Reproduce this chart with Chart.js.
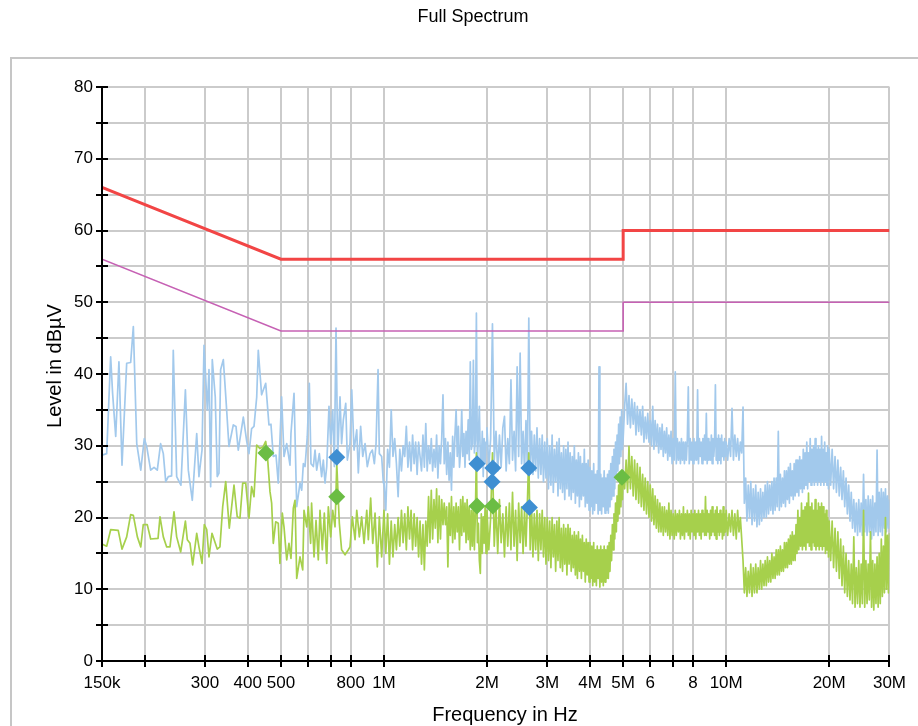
<!DOCTYPE html>
<html>
<head>
<meta charset="utf-8">
<title>Full Spectrum</title>
<script src="https://cdn.jsdelivr.net/npm/chart.js@4.4.0/dist/chart.umd.min.js"></script>
<style>
  html, body { margin: 0; padding: 0; background: #fff; }
  #wrap { width: 918px; height: 726px; }
</style>
</head>
<body>
<div id="wrap"><canvas id="chart" width="918" height="726"></canvas></div>
<script>
// x axis ticks (MHz) and their labels
const xTickValues = [0.15, 0.2, 0.3, 0.4, 0.5, 0.6, 0.7, 0.8, 1, 2, 3, 4, 5, 6, 7, 8, 10, 20, 30];
const xTickLabels = ['150k', '', '300', '400', '500', '', '', '800', '1M', '2M', '3M', '4M', '5M', '6', '', '8', '10M', '20M', '30M'];

// limit lines (MHz / dBµV)
const limitFreq = [0.15, 0.5, 5, 5, 30];
const qpLimit = [66, 56, 56, 60, 60];
const avLimit = [56, 46, 46, 50, 50];

// peak trace below 1 MHz
const blueFreqLow = [
  0.1500, 0.1548, 0.1590, 0.1611, 0.1645, 0.1681, 0.1716, 0.1771, 0.1819, 0.1852,
  0.1895, 0.1947, 0.1994, 0.2026, 0.2081, 0.2129, 0.2176, 0.2225, 0.2266, 0.2303,
  0.2343, 0.2396, 0.2423, 0.2479, 0.2551, 0.2629, 0.2681, 0.2754, 0.2837, 0.2880,
  0.2940, 0.2980, 0.3047, 0.3081, 0.3116, 0.3150, 0.3214, 0.3257, 0.3295, 0.3332,
  0.3393, 0.3455, 0.3524, 0.3629, 0.3695, 0.3752, 0.3882, 0.3972, 0.4032, 0.4105,
  0.4171, 0.4248, 0.4293, 0.4390, 0.4513, 0.4613, 0.4675, 0.4749, 0.4837, 0.4911,
  0.5023, 0.5104, 0.5198, 0.5314, 0.5349, 0.5460, 0.5560, 0.5684,
  0.5750, 0.5813, 0.5880, 0.5970, 0.6052, 0.6120, 0.6217, 0.6289, 0.6360, 0.6473,
  0.6575, 0.6650, 0.6726, 0.6804, 0.6908, 0.6988, 0.7084, 0.7161, 0.7243, 0.7326,
  0.7440, 0.7520, 0.7608, 0.7733, 0.7816, 0.7958, 0.8051, 0.8177, 0.8327, 0.8415,
  0.8548, 0.8669, 0.8805, 0.8940, 0.9104, 0.9249, 0.9374, 0.9482, 0.9610, 0.9694,
  0.9846, 0.9959
];
const blueLevelLow = [
  28.7, 28.9, 42.4, 37.3, 31.3, 41.7, 27.3, 41.5, 41.6, 46.6,
  30.3, 26.6, 31.0, 29.9, 26.6, 27.0, 26.6, 30.3, 28.9, 25.0,
  25.7, 25.8, 43.3, 25.7, 24.5, 37.8, 26.6, 22.4, 31.7, 25.7,
  29.4, 44.0, 35.0, 40.6, 24.3, 42.0, 36.8, 25.7, 26.2, 40.6,
  42.0, 36.4, 29.9, 32.9, 32.7, 29.4, 34.0, 30.6, 28.9, 32.4,
  32.7, 36.8, 43.3, 37.1, 38.7, 32.9, 33.0, 28.5, 28.7, 24.8,
  36.8, 28.5, 30.3, 27.3, 31.7, 37.3, 21.5, 24.8,
  23.8, 27.5, 27.1, 31.3, 38.7, 27.5, 27.1, 29.4, 26.6, 28.9,
  25.7, 28.0, 24.8, 27.1, 35.5, 30.3, 35.0, 27.1, 46.4, 28.5,
  36.8, 30.3, 33.6, 35.9, 28.0, 30.3, 37.8, 29.4, 32.2, 26.2,
  32.7, 28.5, 30.3, 27.1, 28.9, 29.4, 27.5, 30.3, 40.6, 28.9,
  28.5, 24.8
];

// average trace below 1 MHz
const greenFreqLow = [
  0.1500, 0.1548, 0.1590, 0.1673, 0.1716, 0.1771, 0.1819, 0.1852, 0.1903, 0.1947,
  0.1980, 0.2034, 0.2081, 0.2187, 0.2216, 0.2266, 0.2318, 0.2370, 0.2435, 0.2479,
  0.2547, 0.2629, 0.2663, 0.2712, 0.2761, 0.2837, 0.2880, 0.2940, 0.2986, 0.3035,
  0.3081, 0.3144, 0.3257, 0.3317, 0.3379, 0.3448, 0.3532, 0.3646, 0.3726, 0.3795,
  0.3866, 0.3945, 0.4032, 0.4105, 0.4171, 0.4248, 0.4342, 0.4441, 0.4513, 0.4560,
  0.4645, 0.4697, 0.4749, 0.4827, 0.4911, 0.4967, 0.5046, 0.5104, 0.5198, 0.5277,
  0.5349, 0.5434, 0.5497, 0.5560, 0.5684,
  0.5789, 0.5840, 0.5948, 0.6011, 0.6106, 0.6145, 0.6247, 0.6331, 0.6429, 0.6503,
  0.6605, 0.6695, 0.6804, 0.6877, 0.6988, 0.7084, 0.7195, 0.7280, 0.7406, 0.7520,
  0.7696, 0.7868, 0.7958, 0.8083, 0.8232, 0.8327, 0.8473, 0.8606, 0.8746, 0.8907,
  0.9002, 0.9144, 0.9273, 0.9418, 0.9562, 0.9694, 0.9846
];
const greenLevelLow = [
  16.3, 16.0, 18.3, 18.2, 15.6, 17.3, 20.4, 20.3, 17.3, 15.9,
  19.0, 19.0, 17.0, 17.1, 20.1, 17.3, 15.9, 15.9, 20.8, 17.3,
  15.2, 19.5, 16.9, 16.4, 13.4, 17.8, 15.9, 13.6, 19.0, 18.3,
  14.5, 17.8, 15.6, 15.9, 21.5, 25.0, 18.5, 24.5, 20.1, 19.9,
  24.8, 24.8, 19.9, 24.3, 22.9, 30.1, 29.6, 29.9, 30.6, 28.9,
  23.6, 22.0, 16.4, 19.4, 19.2, 13.6, 20.6, 18.7, 14.1, 16.4,
  14.3, 21.3, 22.4, 11.5, 14.5,
  12.7, 21.0, 18.7, 21.5, 16.4, 22.0, 14.5, 19.6, 14.1, 21.0,
  15.5, 20.6, 13.6, 21.5, 17.3, 21.0, 18.7, 27.5, 19.2, 15.5,
  14.8, 15.5, 15.9, 20.1, 16.9, 21.0, 17.3, 20.1, 16.4, 21.0,
  16.9, 22.7, 16.4, 20.6, 13.1, 20.1, 14.5
];

// shared scan grid 1 - 2 MHz
const scanFreqMid = [
  1.0000, 1.0125, 1.0250, 1.0375, 1.0500, 1.0625, 1.0750, 1.0875,
  1.1000, 1.1125, 1.1250, 1.1375, 1.1500, 1.1625, 1.1750, 1.1875,
  1.2000, 1.2125, 1.2250, 1.2375, 1.2500, 1.2625, 1.2750, 1.2875,
  1.3000, 1.3125, 1.3250, 1.3375, 1.3500, 1.3625, 1.3750, 1.3875,
  1.4000, 1.4125, 1.4250, 1.4375, 1.4500, 1.4625, 1.4750, 1.4875,
  1.5000, 1.5125, 1.5250, 1.5375, 1.5500, 1.5625, 1.5750, 1.5875,
  1.6000, 1.6125, 1.6250, 1.6375, 1.6500, 1.6625, 1.6750, 1.6875,
  1.7000, 1.7125, 1.7250, 1.7375, 1.7500, 1.7625, 1.7750, 1.7875,
  1.8000, 1.8125, 1.8250, 1.8375, 1.8500, 1.8625, 1.8750, 1.8875,
  1.9000, 1.9125, 1.9250, 1.9375, 1.9500, 1.9625, 1.9750, 1.9875
];
const blueLevelMid = [
  25.0, 21.0, 29.5, 27.0, 35.0, 28.5, 31.0, 27.5,
  22.9, 29.5, 26.5, 30.0, 28.5, 32.7, 27.0, 30.5,
  26.5, 31.5, 27.5, 30.5, 26.0, 30.5, 28.5, 26.5,
  31.5, 27.0, 33.1, 26.5, 30.0, 27.5, 31.0, 26.5,
  29.5, 27.0, 31.5, 25.5, 30.0, 27.5, 31.0, 37.1,
  27.5, 31.0, 26.0, 30.5, 25.2, 29.0, 23.8, 31.3,
  27.0, 31.5, 35.0, 28.5, 32.7, 27.0, 29.4, 35.0,
  28.5, 31.7, 27.0, 32.0, 28.9, 33.6, 28.0, 41.7,
  29.5, 30.3, 41.9, 29.0, 30.8, 48.5, 27.5, 31.3,
  35.5, 28.0, 27.1, 32.0, 25.7, 31.0, 27.5, 30.5
];
const greenLevelMid = [
  21.0, 15.0, 20.5, 13.5, 19.5, 14.5, 19.0, 15.5,
  20.0, 16.0, 21.0, 16.5, 20.5, 15.5, 21.5, 17.0,
  21.0, 15.5, 20.5, 16.0, 20.0, 14.5, 19.5, 13.5,
  19.0, 12.7, 19.5, 16.0, 22.9, 16.5, 23.8, 17.0,
  22.5, 18.5, 24.0, 16.5, 23.0, 17.0, 22.5, 19.0,
  22.0, 19.0, 21.5, 13.1, 22.0, 17.5, 22.9, 16.5,
  21.5, 17.0, 22.0, 18.0, 21.5, 15.5, 22.5, 17.5,
  22.9, 18.0, 22.0, 16.5, 22.5, 16.9, 21.5, 15.5,
  21.0, 16.0, 22.0, 15.5, 20.5, 29.0, 16.5, 19.2,
  14.0, 12.2, 20.5, 15.0, 20.1, 16.4, 21.5, 15.0
];

// shared scan grid from 2 MHz up
const scanFreqHigh = [
  2.000, 2.025, 2.050, 2.075, 2.100, 2.125, 2.150, 2.175, 2.200, 2.225, 2.250, 2.275, 2.300, 2.325, 2.350, 2.375, 2.400, 2.425, 2.450, 2.475,
  2.500, 2.525, 2.550, 2.575, 2.600, 2.625, 2.650, 2.675, 2.700, 2.725, 2.750, 2.775, 2.800, 2.825, 2.850, 2.875, 2.900, 2.925, 2.950, 2.975,
  3.000, 3.025, 3.050, 3.075, 3.100, 3.125, 3.150, 3.175, 3.200, 3.225, 3.250, 3.275, 3.300, 3.325, 3.350, 3.375, 3.400, 3.425, 3.450, 3.475,
  3.500, 3.525, 3.550, 3.575, 3.600, 3.625, 3.650, 3.675, 3.700, 3.725, 3.750, 3.775, 3.800, 3.825, 3.850, 3.875, 3.900, 3.925, 3.950, 3.975,
  4.000, 4.025, 4.050, 4.075, 4.100, 4.125, 4.150, 4.175, 4.200, 4.225, 4.250, 4.275, 4.300, 4.325, 4.350, 4.375, 4.400, 4.425, 4.450, 4.475,
  4.500, 4.525, 4.550, 4.575, 4.600, 4.625, 4.650, 4.675, 4.700, 4.725, 4.750, 4.775, 4.800, 4.825, 4.850, 4.875, 4.900, 4.925, 4.950, 4.975,
  5.000,
  5.05, 5.10, 5.15, 5.20, 5.25, 5.30, 5.35, 5.40, 5.45, 5.50,
  5.55, 5.60, 5.65, 5.70, 5.75, 5.80, 5.85, 5.90, 5.95, 6.00,
  6.05, 6.10, 6.15, 6.20, 6.25, 6.30, 6.35, 6.40, 6.45, 6.50,
  6.55, 6.60, 6.65, 6.70, 6.75, 6.80, 6.85, 6.90, 6.95, 7.00,
  7.05, 7.10, 7.15, 7.20, 7.25, 7.30, 7.35, 7.40, 7.45, 7.50,
  7.55, 7.60, 7.65, 7.70, 7.75, 7.80, 7.85, 7.90, 7.95, 8.00,
  8.05, 8.10, 8.15, 8.20, 8.25, 8.30, 8.35, 8.40, 8.45, 8.50,
  8.55, 8.60, 8.65, 8.70, 8.75, 8.80, 8.85, 8.90, 8.95, 9.00,
  9.05, 9.10, 9.15, 9.20, 9.25, 9.30, 9.35, 9.40, 9.45, 9.50,
  9.55, 9.60, 9.65, 9.70, 9.75, 9.80, 9.85, 9.90, 9.95, 10.00,
  10.1, 10.2, 10.3, 10.4, 10.5, 10.6, 10.7, 10.8, 10.9, 11.0,
  11.1, 11.2, 11.3, 11.4, 11.5, 11.6, 11.7, 11.8, 11.9, 12.0,
  12.1, 12.2, 12.3, 12.4, 12.5, 12.6, 12.7, 12.8, 12.9, 13.0,
  13.1, 13.2, 13.3, 13.4, 13.5, 13.6, 13.7, 13.8, 13.9, 14.0,
  14.1, 14.2, 14.3, 14.4, 14.5, 14.6, 14.7, 14.8, 14.9, 15.0,
  15.1, 15.2, 15.3, 15.4, 15.5, 15.6, 15.7, 15.8, 15.9, 16.0,
  16.1, 16.2, 16.3, 16.4, 16.5, 16.6, 16.7, 16.8, 16.9, 17.0,
  17.1, 17.2, 17.3, 17.4, 17.5, 17.6, 17.7, 17.8, 17.9, 18.0,
  18.1, 18.2, 18.3, 18.4, 18.5, 18.6, 18.7, 18.8, 18.9, 19.0,
  19.1, 19.2, 19.3, 19.4, 19.5, 19.6, 19.7, 19.8, 19.9, 20.0,
  20.2, 20.4, 20.6, 20.8, 21.0, 21.2, 21.4, 21.6, 21.8, 22.0,
  22.2, 22.4, 22.6, 22.8, 23.0, 23.2, 23.4, 23.6, 23.8, 24.0,
  24.2, 24.4, 24.6, 24.8, 25.0, 25.2, 25.4, 25.6, 25.8, 26.0,
  26.2, 26.4, 26.6, 26.8, 27.0, 27.2, 27.4, 27.6, 27.8, 28.0,
  28.2, 28.4, 28.6, 28.8, 29.0, 29.2, 29.4, 29.6, 29.8, 30.0
];
const blueLevelHigh = [
  32.5, 27.0, 31.0, 47.0, 28.0, 32.0, 26.5, 31.5, 27.0, 32.5, 34.1, 26.5, 31.0, 27.5, 39.2, 28.0, 32.0, 26.5, 41.0, 28.5,
  42.9, 27.5, 32.0, 26.5, 33.5, 27.0, 47.8, 27.5, 32.0, 26.0, 31.5, 26.5, 32.5, 25.5, 31.0, 26.0, 31.5, 25.0, 30.5, 25.5,
  31.0, 24.0, 30.0, 24.5, 31.5, 23.5, 29.5, 25.0, 30.5, 23.0, 31.0, 24.0, 29.0, 23.5, 30.0, 22.5, 29.5, 24.0, 30.5, 23.0,
  29.0, 22.5, 28.5, 23.5, 30.0, 22.0, 28.0, 23.0, 29.0, 21.5, 28.5, 22.5, 27.5, 23.0, 29.5, 21.5, 27.5, 22.0, 28.0, 21.0,
  27.0, 21.5, 26.5, 20.5, 27.5, 21.0, 26.0, 22.0, 26.5, 20.5, 41.0, 21.0, 26.0, 20.5, 25.5, 21.5, 26.5, 20.6, 25.5, 21.0,
  26.0, 20.6, 26.5, 21.5, 27.5, 22.5, 28.5, 23.0, 29.5, 24.0, 30.5, 25.5, 31.5, 26.5, 33.0, 27.5, 34.0, 28.5, 35.0, 29.5,
  31.0,
  35.5, 38.7, 33.0, 37.0, 32.5, 36.5, 33.0, 36.0, 31.5, 35.5,
  32.0, 35.0, 31.5, 35.5, 30.5, 34.0, 31.0, 34.5, 30.5, 33.5,
  30.0, 35.5, 29.5, 33.5, 30.0, 33.0, 29.0, 32.5, 29.5, 33.0,
  28.5, 32.0, 29.0, 32.5, 28.0, 31.5, 28.5, 32.0, 27.5, 31.0,
  28.0, 40.3, 27.5, 31.0, 28.0, 30.5, 27.5, 31.0, 28.0, 30.5,
  27.5, 30.5, 28.0, 31.0, 38.2, 27.5, 31.0, 28.0, 30.5, 27.5,
  31.0, 28.0, 30.5, 28.0, 37.8, 27.5, 31.0, 28.5, 30.5, 27.5,
  31.0, 28.0, 31.5, 28.0, 34.5, 27.5, 31.0, 28.0, 30.5, 28.0,
  31.5, 27.5, 31.0, 28.5, 30.5, 38.5, 28.0, 31.0, 27.5, 31.5,
  28.0, 31.0, 27.5, 31.5, 28.5, 30.5, 28.0, 31.0, 28.5, 30.5,
  28.0, 31.0, 28.5, 35.2, 28.0, 31.5, 28.5, 31.0, 28.0, 30.5,
  29.0, 35.4, 22.0, 25.5, 19.5, 24.5, 20.0, 25.0, 19.0, 24.0,
  19.5, 24.5, 18.7, 23.5, 19.0, 24.0, 19.5, 23.5, 20.0, 24.5,
  20.0, 25.0, 20.5, 24.5, 21.0, 25.0, 20.5, 25.5, 21.0, 25.5,
  21.5, 32.0, 21.0, 26.0, 21.5, 25.5, 22.0, 26.5, 21.5, 26.5,
  22.5, 27.0, 22.0, 27.5, 23.0, 26.5, 22.5, 27.5, 23.0, 28.0,
  23.5, 28.0, 23.0, 28.5, 24.0, 28.0, 23.5, 29.5, 24.0, 29.0,
  24.5, 30.5, 24.0, 29.0, 25.0, 31.0, 24.5, 29.5, 25.0, 30.0,
  24.5, 31.0, 25.0, 29.5, 24.5, 30.0, 25.0, 29.5, 24.5, 31.3,
  25.0, 29.5, 24.5, 30.5, 25.0, 29.0, 24.5, 30.0, 24.0, 29.5,
  24.5, 29.5, 24.0, 28.5, 23.5, 28.0, 23.0, 27.0, 22.5, 26.5,
  21.5, 25.5, 20.5, 24.5, 19.5, 23.5, 18.5, 22.5, 18.0, 22.0,
  17.5, 22.5, 18.0, 22.0, 17.5, 26.0, 18.0, 22.5, 17.5, 23.0,
  18.0, 22.5, 17.0, 23.0, 17.5, 22.0, 18.0, 29.4, 17.5, 23.5,
  18.0, 24.0, 17.5, 23.5, 18.5, 24.0, 18.0, 23.0, 18.5, 22.5
];
const greenLevelHigh = [
  21.0, 15.5, 20.0, 29.0, 16.0, 21.5, 15.0, 22.5, 16.5, 20.5, 14.5, 21.5, 16.0, 22.0, 15.5, 23.5, 16.0, 21.0, 14.0, 22.0,
  16.5, 21.5, 15.0, 21.0, 16.0, 22.0, 29.0, 15.5, 21.5, 14.5, 20.5, 15.5, 21.0, 14.0, 20.5, 15.5, 21.0, 14.5, 20.0, 13.5,
  20.0, 14.0, 19.5, 13.0, 20.0, 14.5, 19.0, 12.5, 19.5, 14.0, 20.0, 13.0, 18.5, 12.5, 19.0, 13.5, 18.5, 12.0, 19.0, 13.5,
  18.5, 12.5, 17.5, 13.0, 18.0, 12.0, 17.5, 11.5, 18.0, 12.5, 17.0, 11.5, 17.5, 12.5, 16.5, 11.0, 17.0, 12.0, 16.5, 11.0,
  16.5, 11.5, 16.0, 10.5, 16.5, 11.0, 15.5, 10.5, 16.0, 11.5, 15.5, 10.3, 16.0, 11.0, 15.5, 10.5, 16.0, 11.0, 15.5, 11.5,
  16.0, 11.5, 16.5, 12.5, 17.5, 14.0, 19.0, 15.5, 20.5, 17.0, 22.0, 18.0, 23.0, 19.5, 24.5, 20.5, 25.7, 21.5, 25.0, 22.5,
  26.5,
  24.0, 28.0, 23.5, 29.9, 24.0, 28.5, 23.0, 28.0, 22.5, 27.5,
  22.0, 27.0, 21.5, 26.0, 21.0, 25.5, 20.5, 25.0, 20.0, 24.5,
  19.5, 24.0, 19.0, 23.0, 18.5, 22.5, 18.0, 22.0, 18.0, 21.5,
  17.5, 21.5, 18.0, 21.0, 17.5, 22.0, 17.0, 21.0, 17.5, 20.5,
  17.0, 21.0, 17.5, 20.5, 18.0, 21.0, 17.0, 20.5, 17.5, 21.5,
  17.0, 20.5, 18.0, 21.0, 17.5, 20.5, 17.0, 21.0, 18.0, 20.5,
  17.5, 21.0, 17.0, 20.5, 18.0, 21.0, 17.5, 20.5, 17.0, 21.0,
  18.0, 20.5, 17.5, 22.9, 17.5, 21.0, 18.0, 20.5, 17.0, 21.0,
  17.5, 21.5, 18.0, 20.5, 17.5, 21.0, 17.0, 21.5, 18.0, 20.5,
  17.5, 21.0, 18.0, 20.5, 17.0, 21.5, 17.5, 20.5, 18.0, 21.0,
  17.5, 20.5, 18.0, 21.0, 17.5, 20.5, 17.0, 21.0, 18.0, 20.0,
  17.0, 14.0, 9.5, 13.0, 9.0, 12.5, 9.5, 13.5, 9.0, 13.0,
  9.5, 13.5, 9.5, 13.0, 10.0, 14.0, 10.0, 13.5, 10.5, 14.0,
  10.5, 14.5, 11.0, 14.0, 11.0, 15.0, 11.5, 14.5, 11.5, 15.5,
  12.0, 15.5, 12.0, 16.0, 12.5, 15.5, 12.5, 16.5, 13.0, 16.5,
  13.0, 17.0, 13.5, 17.5, 13.5, 18.0, 14.0, 17.5, 14.0, 19.0,
  15.0, 21.0, 15.5, 20.0, 16.0, 22.0, 15.5, 21.0, 16.0, 21.5,
  15.5, 22.0, 16.5, 23.4, 16.0, 21.5, 15.5, 22.0, 16.5, 21.0,
  16.0, 22.5, 15.5, 21.0, 16.0, 22.0, 15.5, 21.5, 16.0, 22.0,
  15.5, 21.5, 16.0, 20.5, 15.0, 21.0, 15.5, 20.0, 14.5, 19.5,
  14.0, 19.5, 13.0, 18.5, 12.5, 18.0, 11.5, 17.0, 10.5, 16.0,
  9.5, 15.0, 9.0, 14.0, 8.5, 13.5, 8.0, 17.3, 7.5, 13.0,
  8.0, 14.0, 7.5, 13.5, 8.0, 21.0, 7.5, 14.0, 8.0, 13.5,
  8.5, 18.0, 7.5, 14.0, 7.1, 13.5, 8.0, 14.5, 7.5, 15.0,
  8.0, 17.0, 9.0, 16.0, 9.5, 20.0, 10.0, 17.5, 9.5, 17.8
];

// final measurement markers
const qpMarkFreq = [0.728, 1.87, 2.08, 2.07, 2.65, 2.66];
const qpMarkLevel = [28.4, 27.5, 26.9, 25.0, 26.9, 21.4];
const avMarkFreq = [0.452, 0.728, 1.87, 2.08, 4.96];
const avMarkLevel = [29.0, 22.9, 21.6, 21.6, 25.6];

const FONT = "'Liberation Sans', Arial, Helvetica, sans-serif";

function toPoints(xs, ys) {
  return xs.map((x, i) => ({ x: x, y: ys[i] }));
}

const bluePoints = toPoints(
  blueFreqLow.concat(scanFreqMid, scanFreqHigh),
  blueLevelLow.concat(blueLevelMid, blueLevelHigh)
);
const greenPoints = toPoints(
  greenFreqLow.concat(scanFreqMid, scanFreqHigh),
  greenLevelLow.concat(greenLevelMid, greenLevelHigh)
);

// white page, grey frame and the three titles
const framePlugin = {
  id: 'frame',
  beforeDraw(chart) {
    const c = chart.ctx;
    c.save();
    c.fillStyle = '#fff';
    c.fillRect(0, 0, chart.width, chart.height);
    c.strokeStyle = '#c6c6c6';
    c.lineWidth = 2;
    c.strokeRect(11, 58, chart.width + 20, chart.height + 20);

    c.fillStyle = '#000';
    c.textAlign = 'center';
    c.textBaseline = 'middle';
    c.font = '18px ' + FONT;
    c.fillText('Full Spectrum', 473, 17);

    c.font = '20px ' + FONT;
    c.fillText('Frequency in Hz', 505, 715);

    c.translate(55, 366);
    c.rotate(-Math.PI / 2);
    c.fillText('Level in dBµV', 0, 0);
    c.restore();
  }
};

// black axis lines with ticks crossing them
const axisPlugin = {
  id: 'axisLines',
  afterDatasetsDraw(chart) {
    const c = chart.ctx;
    const xs = chart.scales.x, ys = chart.scales.y;
    c.save();
    c.strokeStyle = '#000';
    c.lineWidth = 2;
    c.beginPath();
    c.moveTo(xs.left, ys.top);
    c.lineTo(xs.left, ys.bottom);
    c.lineTo(xs.right, ys.bottom);
    ys.ticks.forEach(t => {
      const y = Math.round(ys.getPixelForValue(t.value));
      c.moveTo(xs.left - 6, y);
      c.lineTo(xs.left + 6, y);
    });
    xs.ticks.forEach(t => {
      const x = Math.round(xs.getPixelForValue(t.value));
      c.moveTo(x, ys.bottom - 6);
      c.lineTo(x, ys.bottom + 6);
    });
    c.stroke();
    c.restore();
  }
};

const ctx = document.getElementById('chart').getContext('2d');
const chart = new Chart(ctx, {
  type: 'line',
  data: {
    datasets: [
      {
        label: 'QP final',
        data: toPoints(qpMarkFreq, qpMarkLevel),
        showLine: false,
        pointStyle: 'rectRot',
        pointRadius: 8.5,
        pointBackgroundColor: '#3f8fd2',
        pointBorderColor: '#3f8fd2',
        pointBorderWidth: 0
      },
      {
        label: 'AV final',
        data: toPoints(avMarkFreq, avMarkLevel),
        showLine: false,
        pointStyle: 'rectRot',
        pointRadius: 8.5,
        pointBackgroundColor: '#6bbd44',
        pointBorderColor: '#6bbd44',
        pointBorderWidth: 0
      },
      {
        label: 'QP limit',
        data: toPoints(limitFreq, qpLimit),
        borderColor: '#f24545',
        borderWidth: 3,
        pointRadius: 0
      },
      {
        label: 'AV limit',
        data: toPoints(limitFreq, avLimit),
        borderColor: '#c661b4',
        borderWidth: 1.6,
        pointRadius: 0
      },
      {
        label: 'Average',
        data: greenPoints,
        borderColor: '#a6d04c',
        borderWidth: 1.7,
        borderJoinStyle: 'round',
        pointRadius: 0
      },
      {
        label: 'Peak',
        data: bluePoints,
        borderColor: '#a2c9ec',
        borderWidth: 1.7,
        borderJoinStyle: 'round',
        pointRadius: 0
      }
    ]
  },
  options: {
    responsive: false,
    animation: false,
    devicePixelRatio: 1,
    layout: { padding: { left: 0, right: 28, top: 87, bottom: 0 } },
    plugins: {
      legend: { display: false },
      tooltip: { enabled: false },
      title: { display: false }
    },
    scales: {
      x: {
        type: 'logarithmic',
        min: 0.15,
        max: 30,
        afterBuildTicks: s => { s.ticks = xTickValues.map(v => ({ value: v })); },
        afterFit: s => { s.height = 65; },
        border: { display: false },
        grid: { color: '#cbcbcb', lineWidth: 2, drawTicks: false },
        ticks: {
          autoSkip: false,
          maxRotation: 0,
          padding: 12,
          color: '#000',
          font: { family: FONT, size: 17 },
          callback: (v, i) => xTickLabels[i]
        }
      },
      y: {
        min: 0,
        max: 80,
        afterFit: s => { s.width = 102; },
        border: { display: false },
        grid: { color: '#cbcbcb', lineWidth: 2, drawTicks: false },
        ticks: {
          stepSize: 5,
          padding: 9,
          color: '#000',
          font: { family: FONT, size: 17 },
          callback: v => (v % 10 === 0 ? String(v) : '')
        }
      }
    }
  },
  plugins: [framePlugin, axisPlugin]
});
</script>
</body>
</html>
